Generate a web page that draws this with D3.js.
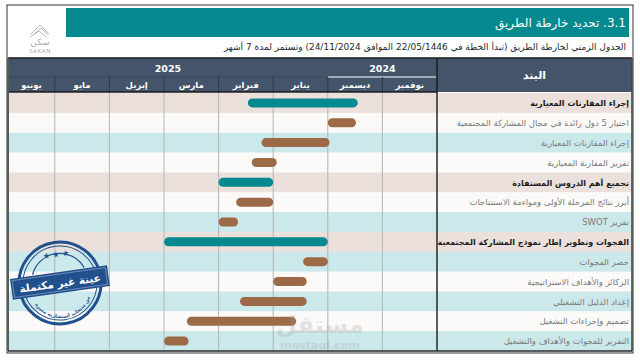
<!DOCTYPE html>
<html><head><meta charset="utf-8">
<script src="https://cdn.jsdelivr.net/npm/d3@7"></script>
<style>html,body{margin:0;padding:0;background:#fff;}svg{display:block;}</style>
</head><body>
<script>
// ---------- data ----------
const title = "3.1. تحديد خارطة الطريق";
const subtitle = "الجدول الزمني لخارطة الطريق (تبدأ الخطة في 22/05/1446 الموافق 24/11/2024) وتستمر لمدة 7 أشهر";
const itemHeader = "البند";
const monthKeys = ["2024-11","2024-12","2025-01","2025-02","2025-03","2025-04","2025-05","2025-06"];
const monthNames = ["نوفمبر","ديسمبر","يناير","فبراير","مارس","إبريل","مايو","يونيو"];
const tasks = [
  "إجراء المقارنات المعيارية",
  "اختيار 5 دول رائدة في مجال المشاركة المجتمعية",
  "إجراء المقارنات المعيارية",
  "تقرير المقارنة المعيارية",
  "تجميع أهم الدروس المستفادة",
  "أبرز نتائج المرحلة الأولى ومواءمة الاستنتاجات",
  "تقرير SWOT",
  "الفجوات وتطوير إطار نموذج المشاركة المجتمعية",
  "حصر الفجوات",
  "الركائز والأهداف الاستراتيجية",
  "إعداد الدليل التشغيلي",
  "تصميم وإجراءات التشغيل",
  "التقرير للفجوات والأهداف والتشغيل"
];
const isSection = [true,false,false,false,true,false,false,true,false,false,false,false,false];
const startDates = ["2024-12-15","2024-12-16","2024-12-31","2025-01-30","2025-02-01","2025-02-01","2025-02-19","2025-01-01","2025-01-01","2025-01-13","2025-01-13","2025-01-19","2025-03-18"];
const endDates   = ["2025-02-14","2025-01-01","2025-02-07","2025-02-12","2025-03-01","2025-02-20","2025-03-01","2025-04-01","2025-01-15","2025-02-01","2025-02-18","2025-03-19","2025-04-01"];
const stampText = "عينة غير مكتملة";
const stampSub = "من منتجات استشارية مميزة";

// ---------- layout ----------
const W = 640, H = 360;
const AR = "'DejaVu Sans', sans-serif";
const C = {teal:"#06898f", navy:"#44546a", brown:"#9d6a48", rose:"#ebe0db", blue:"#cbe8eb", white:"#fcfbf9", frame:"#4f5b52"};
const L = 8, R = 632, labelX = 437, headTop = 58, yearBot = 77, headBot = 92, tableBot = 351;

const svg = d3.select("body").append("svg").attr("width", W).attr("height", H)
  .style("font-family", AR);

function monthPos(s){
  const [y,m,d] = s.split("-").map(Number);
  const idx = (y - 2024)*12 + (m - 1) - 10;
  const dim = new Date(y, m, 0).getDate();
  return idx + (d - 1)/dim;
}
const x = d3.scaleLinear().domain([0, monthKeys.length]).range([labelX, labelX - monthKeys.length*54.6]);
const y = d3.scaleBand().domain(d3.range(tasks.length)).range([headBot + 1, tableBot]).padding(0);

// ---------- defs ----------
const defs = svg.append("defs");
defs.append("clipPath").attr("id","gclip").append("rect")
  .attr("x", L).attr("y", headTop).attr("width", labelX - L).attr("height", tableBot - headTop);
const pat = defs.append("pattern").attr("id","dots").attr("width",4).attr("height",4).attr("patternUnits","userSpaceOnUse");
pat.append("rect").attr("width",4).attr("height",4).attr("fill",C.white);
pat.append("circle").attr("cx",1).attr("cy",1).attr("r",0.45).attr("fill","#e4e0dc");

// ---------- page header ----------
svg.append("rect").attr("x", 7).attr("y", 5).attr("width", R - 7 + 1).attr("height", tableBot - 5 + 2)
  .attr("fill","none").attr("stroke", C.frame).attr("stroke-width", 1.2);
svg.append("rect").attr("x", 66).attr("y", 8).attr("width", R - 66 - 3).attr("height", 29).attr("fill", C.teal);
svg.append("text").attr("x", 626).attr("y", 27).attr("direction","rtl").attr("text-anchor","start")
  .attr("fill","#fff").attr("font-size", 12).text(title);
svg.append("text").attr("x", 626).attr("y", 50).attr("direction","rtl").attr("text-anchor","start")
  .attr("fill","#1d2b2b").attr("font-size", 9).attr("font-weight","normal").text(subtitle);

// logo
const logo = svg.append("g").attr("transform","translate(40,30)");
logo.append("path").attr("d","M-9,4 L0,-5 L9,4 M-6,4 L1,-2 L8,5 M-10,7 L-1,1 L6,7").attr("fill","none").attr("stroke","#b9b9b9").attr("stroke-width",1);
logo.append("text").attr("x",0).attr("y",15).attr("text-anchor","middle").attr("font-size",9).attr("fill","#aaa").text("سكن");
logo.append("text").attr("x",0).attr("y",23).attr("text-anchor","middle").attr("font-size",5.5).attr("fill","#aaa").attr("letter-spacing",0.6).text("SAKAN");

// ---------- table rows ----------
const rowColor = (i) => isSection[i] ? C.rose : (i % 2 === 1 ? "url(#dots)" : C.blue);
svg.append("g").selectAll("rect").data(tasks).join("rect")
  .attr("x", L).attr("y", (d,i) => y(i)).attr("width", R - L).attr("height", y.bandwidth() + 0.3)
  .attr("fill", (d,i) => rowColor(i));

const gridG = svg.append("g").attr("clip-path","url(#gclip)");
gridG.selectAll("line").data(d3.range(1, monthKeys.length)).join("line")
  .attr("x1", d => x(d)).attr("x2", d => x(d)).attr("y1", headBot).attr("y2", tableBot)
  .attr("stroke", "#b3b6b6").attr("stroke-width", 1);

svg.append("g").selectAll("text").data(tasks).join("text")
  .attr("x", R - 3).attr("y", (d,i) => y(i) + y.bandwidth()/2 + 3.2)
  .attr("direction","rtl").attr("text-anchor","start")
  .attr("font-size", (d,i) => isSection[i] ? 8 : 8.5)
  .attr("font-weight", (d,i) => isSection[i] ? "bold" : "normal")
  .attr("fill", (d,i) => isSection[i] ? "#1b1b1b" : "#7a7a7a")
  .text(d => d);

const barH = 9;
gridG.append("g").selectAll("rect").data(tasks).join("rect")
  .attr("x", (d,i) => x(monthPos(endDates[i])))
  .attr("width", (d,i) => x(monthPos(startDates[i])) - x(monthPos(endDates[i])))
  .attr("y", (d,i) => y(i) + y.bandwidth()/2 - barH/2)
  .attr("height", barH).attr("rx", barH/2)
  .attr("fill", (d,i) => isSection[i] ? C.teal : C.brown);

// ---------- header ----------
svg.append("rect").attr("x", L).attr("y", headTop).attr("width", R - L).attr("height", headBot - headTop).attr("fill", C.navy);
const years = d3.groups(monthKeys.map((k,i) => ({y:k.slice(0,4), i})), d => d.y)
  .map(([yr, arr]) => ({yr, a: d3.min(arr, d => d.i), b: d3.max(arr, d => d.i) + 1}));
const hdr = svg.append("g").attr("clip-path","url(#gclip)");
hdr.selectAll("text.yr").data(years).join("text").attr("class","yr")
  .attr("x", d => (Math.min(x(d.a), labelX) + Math.max(x(d.b), L))/2).attr("y", 72)
  .attr("text-anchor","middle").attr("fill","#fff").attr("font-size", 9.5).attr("font-weight","bold")
  .text(d => d.yr);
hdr.selectAll("line.yl").data(years.slice(0,1)).join("line").attr("class","yl")
  .attr("x1", d => x(d.b)).attr("x2", d => x(d.a)).attr("y1", yearBot).attr("y2", yearBot)
  .attr("stroke","#fff").attr("stroke-width",1);
hdr.selectAll("line.yl2").data(years.slice(1)).join("line").attr("class","yl2")
  .attr("x1", d => x(d.b)).attr("x2", d => x(d.a)).attr("y1", yearBot).attr("y2", yearBot)
  .attr("stroke","#3a4759").attr("stroke-width",1);
hdr.selectAll("line.ms").data(d3.range(1, monthKeys.length)).join("line").attr("class","ms")
  .attr("x1", d => x(d)).attr("x2", d => x(d)).attr("y1", yearBot).attr("y2", headBot)
  .attr("stroke","#2f3a48").attr("stroke-width",1);
hdr.selectAll("text.mn").data(monthNames).join("text").attr("class","mn")
  .attr("x", (d,i) => (x(i) + Math.max(x(i+1), L))/2).attr("y", 88)
  .attr("text-anchor","middle").attr("fill","#fff").attr("font-size", 8.5).attr("font-weight","bold")
  .text(d => d);
svg.append("text").attr("x", (labelX + R)/2).attr("y", 79).attr("text-anchor","middle")
  .attr("fill","#fff").attr("font-size", 11).attr("font-weight","bold").text(itemHeader);

svg.append("line").attr("x1", L).attr("x2", R).attr("y1", headTop).attr("y2", headTop).attr("stroke","#1a1a1a").attr("stroke-width",1.6);
svg.append("line").attr("x1", L).attr("x2", labelX).attr("y1", headBot).attr("y2", headBot).attr("stroke","#1a1a1a").attr("stroke-width",1.4);
svg.append("line").attr("x1", labelX).attr("x2", labelX).attr("y1", headTop).attr("y2", tableBot).attr("stroke","#1a1a1a").attr("stroke-width",1.4);
svg.append("line").attr("x1", L).attr("x2", L).attr("y1", headTop).attr("y2", tableBot).attr("stroke","#555c58").attr("stroke-width",2);
svg.append("line").attr("x1", R).attr("x2", R).attr("y1", headTop).attr("y2", tableBot).attr("stroke","#3d4a40").attr("stroke-width",1.6);
svg.append("line").attr("x1", L).attr("x2", R).attr("y1", tableBot).attr("y2", tableBot).attr("stroke","#2a2a2a").attr("stroke-width",1.6);

// ---------- watermark ----------
svg.append("text").attr("x", 320).attr("y", 333).attr("text-anchor","middle").attr("font-size", 24).attr("font-weight","bold")
  .attr("fill","#9a9a9a").attr("opacity",0.25).text("مستقل");
svg.append("text").attr("x", 320).attr("y", 349).attr("text-anchor","middle").attr("font-size", 11).attr("font-weight","bold")
  .attr("fill","#9a9a9a").attr("opacity",0.25).text("mostaql.com");

// ---------- stamp ----------
const sc = "#22508e";
const st = svg.append("g").attr("transform","translate(60,283) rotate(-8)");
st.append("circle").attr("r", 41).attr("fill","none").attr("stroke", sc).attr("stroke-width", 3);
st.append("circle").attr("r", 37).attr("fill","none").attr("stroke", sc).attr("stroke-width", 1);
st.append("path").attr("d","M-26,-12 A28,28 0 0 1 26,-12").attr("fill","none").attr("stroke", sc).attr("stroke-width", 1.2);
st.append("text").attr("y", -26).attr("text-anchor","middle").attr("fill", sc).attr("font-size", 8).text("★ ★ ★");
defs.append("path").attr("id","arcp").attr("d","M-31,4 A31,31 0 0 0 31,4");
st.append("text").attr("fill", sc).attr("font-size", 5).attr("font-weight","bold")
  .append("textPath").attr("href","#arcp").attr("startOffset","50%").attr("text-anchor","middle").text(stampSub);
st.append("rect").attr("x", -49).attr("y", -11).attr("width", 98).attr("height", 21).attr("fill", sc);
st.append("rect").attr("x", -47).attr("y", -9).attr("width", 94).attr("height", 17).attr("fill","none").attr("stroke","#e8eef6").attr("stroke-width",0.6).attr("opacity",0.6);
st.append("text").attr("y", 4).attr("text-anchor","middle").attr("fill","#fff").attr("font-size", 10.5).attr("font-weight","bold").text(stampText);
</script>
</body></html>
